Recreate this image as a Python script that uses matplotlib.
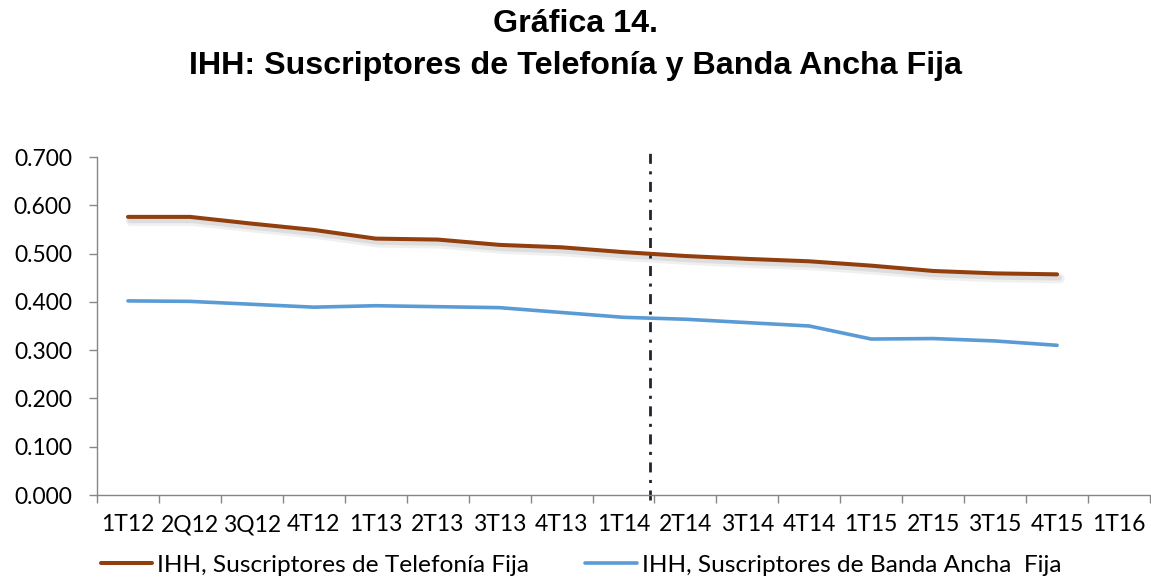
import matplotlib
matplotlib.use("Agg")
import matplotlib.pyplot as plt
import matplotlib.patheffects as pe
import numpy as np

# Quarterly periods on the category axis
categories = ['1T12', '2Q12', '3Q12', '4T12', '1T13', '2T13', '3T13', '4T13',
              '1T14', '2T14', '3T14', '4T14', '1T15', '2T15', '3T15', '4T15', '1T16']

# HHI values per quarter (last category has no data yet)
ihh_telefonia = [0.576, 0.576, 0.562, 0.549, 0.531, 0.529, 0.518, 0.513,
                 0.503, 0.495, 0.489, 0.484, 0.475, 0.464, 0.459, 0.457]
ihh_banda_ancha = [0.402, 0.401, 0.395, 0.389, 0.392, 0.390, 0.388, 0.378,
                   0.368, 0.364, 0.357, 0.350, 0.323, 0.324, 0.319, 0.310]

series_labels = ['IHH, Suscriptores de Telefonía Fija',
                 'IHH, Suscriptores de Banda Ancha  Fija']
y_ticks = [0.0, 0.1, 0.2, 0.3, 0.4, 0.5, 0.6, 0.7]

title_lines = ['Gráfica 14.', 'IHH: Suscriptores de Telefonía y Banda Ancha Fija']

# Position of the reference divider (between 1T14 and 2T14)
divider_pos = 8.43

BROWN = '#923F0D'
BLUE = '#5B9BD5'
GRID_GREY = '#868686'
TEXT_FONT = 'Lato'
FS = 16.5

W, H = 1151, 581
fig = plt.figure(figsize=(W / 100, H / 100), dpi=100)
ax = fig.add_axes([97 / W, 1 - 495 / H, 1053 / W, 338 / H])

x = np.arange(len(categories))
ax.plot(x[:len(ihh_telefonia)], ihh_telefonia, color=BROWN, lw=2.9,
        solid_capstyle='round', label=series_labels[0],
        path_effects=[pe.SimpleLineShadow(offset=(2, -3), shadow_color='#8a8a8a',
                                          alpha=0.12, linewidth=7),
                      pe.SimpleLineShadow(offset=(1.5, -2.5), shadow_color='#8a8a8a',
                                          alpha=0.18, linewidth=4),
                      pe.Normal()])
ax.plot(x[:len(ihh_banda_ancha)], ihh_banda_ancha, color=BLUE, lw=2.6,
        solid_capstyle='round', label=series_labels[1])

ax.axvline(divider_pos, ymin=-0.015, ymax=1.015, clip_on=False,
           color='#1E2633', lw=2.0, linestyle=(0, (3.6, 2.7, 1.1, 2.7)))

ax.set_xlim(-0.5, len(categories) - 0.5)
ax.set_ylim(0, 0.7)

ax.set_yticks(y_ticks)
ax.set_yticklabels([f'{v:.3f}' for v in y_ticks], fontfamily=TEXT_FONT, fontsize=FS)
ax.set_xticks(x)
ax.set_xticklabels(categories, fontfamily=TEXT_FONT, fontsize=FS)
ax.set_xticks(np.arange(len(categories) + 1) - 0.5, minor=True)

ax.tick_params(axis='y', direction='out', length=6, width=1, color=GRID_GREY,
               pad=12, labelcolor='black')
ax.tick_params(axis='x', which='major', length=0, pad=14, labelcolor='black')
ax.tick_params(axis='x', which='minor', direction='out', length=6, width=1,
               color=GRID_GREY)

for side in ('top', 'right'):
    ax.spines[side].set_visible(False)
for side in ('left', 'bottom'):
    ax.spines[side].set_color(GRID_GREY)
    ax.spines[side].set_linewidth(1)

# Two-line bold title, each line placed on its own baseline
for line, baseline_px in zip(title_lines, (32, 74)):
    fig.text(0.5, 1 - baseline_px / H, line, ha='center', va='baseline',
             fontfamily='Liberation Sans', fontweight='bold', fontsize=23.2)

leg = fig.legend(loc='center left', bbox_to_anchor=(101 / W, 1 - 565 / H),
                 ncol=2, frameon=False, borderpad=0, borderaxespad=0,
                 handlelength=2.1, handletextpad=0.2, columnspacing=2.3,
                 prop={'family': TEXT_FONT, 'size': 17.6})
for legline in leg.get_lines():
    legline.set_path_effects([])

fig.savefig('out.png', dpi=100)
